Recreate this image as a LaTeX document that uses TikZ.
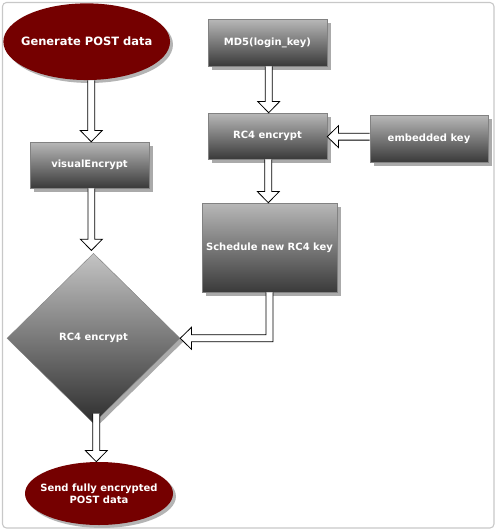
\documentclass[tikz,border=0pt]{standalone}
\usepackage{fontspec}
\setmainfont{DejaVu Sans}
\usetikzlibrary{shapes.geometric,shadows,calc}
\definecolor{darkred}{RGB}{117,0,0}
\definecolor{boxtop}{RGB}{184,184,184}
\definecolor{boxbot}{RGB}{58,58,58}
\definecolor{diatop}{RGB}{196,196,196}
\definecolor{diabot}{RGB}{46,46,46}
\definecolor{shgray}{RGB}{170,170,170}
\definecolor{elshgray}{RGB}{180,180,180}
\definecolor{framegray}{RGB}{200,200,200}
\definecolor{edgegray}{RGB}{130,130,130}
\tikzset{
  lbl/.style={text=white, font=\fontsize{7.5}{9}\selectfont\bfseries, align=center},
  procbox/.style={lbl, rectangle, draw=edgegray, line width=0.4pt, inner sep=0pt,
    top color=boxtop, bottom color=boxbot,
    general shadow={shadow xshift=3pt, shadow yshift=-3pt, fill=shgray, draw=none}},
  termel/.style={ellipse, fill=darkred, draw=none, inner sep=0pt,
    general shadow={shadow xshift=2.2pt, shadow yshift=-2.2pt, fill=elshgray, draw=none}},
  decdia/.style={lbl, diamond, aspect=1, inner sep=0pt, draw=edgegray, line width=0.3pt,
    top color=diatop, bottom color=diabot,
    general shadow={shadow xshift=2.5pt, shadow yshift=-2.5pt, fill=shgray, draw=none}},
  hollow/.style={draw=black, line width=0.6pt, fill=white, line join=miter},
}
\def\sw{2.6pt}
\def\hw{8.2pt}
\def\hl{8.4pt}
% vertical down arrow: #1 start, #2 target (tip y), x taken from start
\newcommand\arrdown[2]{%
  \draw[hollow] let \p1=(#1), \p2=(#2) in
    (\x1-\sw,\y1) -- (\x1-\sw,\y2+\hl) -- (\x1-\hw,\y2+\hl) -- (\x1,\y2)
    -- (\x1+\hw,\y2+\hl) -- (\x1+\sw,\y2+\hl) -- (\x1+\sw,\y1);}
% horizontal left arrow: #1 start (x), #2 tip
\newcommand\arrleft[2]{%
  \draw[hollow] let \p1=(#1), \p2=(#2) in
    (\x1,\y2+\sw) -- (\x2+\hl,\y2+\sw) -- (\x2+\hl,\y2+\hw) -- (\x2,\y2)
    -- (\x2+\hl,\y2-\hw) -- (\x2+\hl,\y2-\sw) -- (\x1,\y2-\sw);}
% down then left
\newcommand\arrdownleft[2]{%
  \draw[hollow] let \p1=(#1), \p2=(#2) in
    (\x1-\sw,\y1) -- (\x1-\sw,\y2+\sw) -- (\x2+\hl,\y2+\sw) -- (\x2+\hl,\y2+\hw) -- (\x2,\y2)
    -- (\x2+\hl,\y2-\hw) -- (\x2+\hl,\y2-\sw) -- (\x1+\sw,\y2-\sw) -- (\x1+\sw,\y1);}
\begin{document}
\begin{tikzpicture}[x=0.75pt,y=-0.75pt]
\useasboundingbox (0,0) rectangle (497,532);
\fill[white] (0,0) rectangle (497,532);
\draw[framegray, line width=0.8pt, rounded corners=3pt] (2.5,2.5) rectangle (494,528);

\node[termel, minimum width=125pt, minimum height=57.5pt,
  label={[lbl, font=\fontsize{8.6}{10}\selectfont\bfseries]center:Generate POST data}] (gen) at (86.7,41.7) {};
\node[procbox, minimum width=89.25pt, minimum height=34.5pt] (ve) at (89.5,165) {visualEncrypt};
\node[procbox, minimum width=89.25pt, minimum height=35.25pt] (md5) at (267.5,42.5) {MD5(login\_key)};
\node[procbox, minimum width=89.25pt, minimum height=34.5pt] (rc4) at (267.5,136) {RC4 encrypt};
\node[procbox, minimum width=88.5pt, minimum height=35.25pt] (emb) at (429,138.5) {embedded key};
\node[procbox, minimum width=101.25pt, minimum height=66.75pt] (sch) at (269.5,247.5) {Schedule new RC4 key};
\node[decdia, minimum width=129.75pt, minimum height=127.5pt] (dia) at (93.5,338.3) {RC4 encrypt};
\node[termel, minimum width=111pt, minimum height=47.25pt,
  label={[lbl]center:Send fully encrypted\\POST data}] (send) at (99,493.5) {};

\arrdown{$(gen.south)+(3.4pt,0)$}{ve.north}
\arrdown{$(ve.south)+(1.4pt,0)$}{$(dia.north)+(0,2pt)$}
\arrdown{$(md5.south)+(0.9pt,0)$}{rc4.north}
\arrdown{$(rc4.south)+(0.6pt,0)$}{sch.north}
\arrleft{emb.west}{$(rc4.east)+(0,-0.5pt)$}
\arrdownleft{sch.south}{dia.east}
\arrdown{$(dia.south)+(2.1pt,7.5pt)$}{send.north}
\end{tikzpicture}
\end{document}
